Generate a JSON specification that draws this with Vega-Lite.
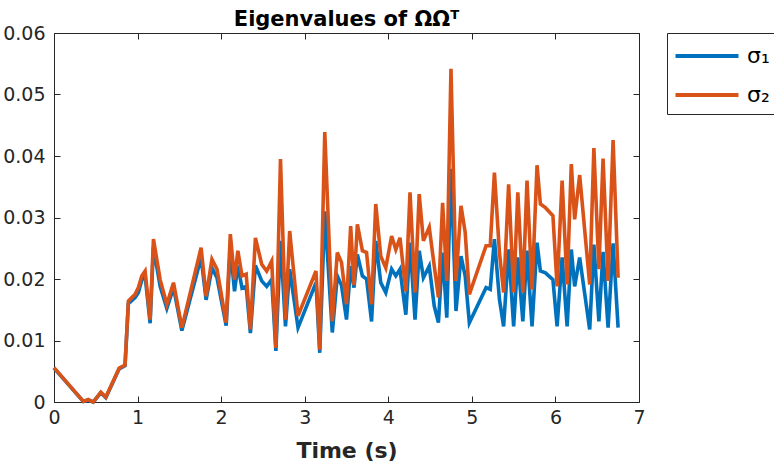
{
  "$schema": "https://vega.github.io/schema/vega-lite/v6.json",
  "width": 585,
  "height": 369,
  "autosize": {"type": "none"},
  "padding": {"left": 54, "top": 33, "right": 135, "bottom": 61},
  "background": "white",
  "config": {
    "font": "DejaVu Sans",
    "view": {"stroke": "#262626", "strokeWidth": 1},
    "axis": {
      "domain": false,
      "grid": false,
      "labelFlush": false,
      "tickColor": "#262626",
      "tickSize": -6,
      "labelColor": "#262626",
      "labelFontSize": 19,
      "labelFont": "DejaVu Sans",
      "titleFont": "DejaVu Sans",
      "titleFontSize": 22,
      "titleFontWeight": "bold",
      "titleColor": "#262626"
    }
  },
  "title": {
    "text": "Eigenvalues of ΩΩᵀ",
    "fontSize": 21,
    "fontWeight": "bold",
    "color": "#000000",
    "font": "DejaVu Sans",
    "offset": -6
  },
  "data": {
    "values": [
      {"t": 0, "s1": 0.0055, "s2": 0.0056},
      {"t": 0.351, "s1": 0.0001, "s2": 0.0001},
      {"t": 0.41, "s1": 0.0003, "s2": 0.0004},
      {"t": 0.47, "s1": 0.0, "s2": 0.0},
      {"t": 0.56, "s1": 0.0015, "s2": 0.0016},
      {"t": 0.62, "s1": 0.0007, "s2": 0.0008},
      {"t": 0.78, "s1": 0.0054, "s2": 0.0055},
      {"t": 0.85, "s1": 0.0059, "s2": 0.006},
      {"t": 0.89, "s1": 0.016, "s2": 0.0164},
      {"t": 0.97, "s1": 0.017, "s2": 0.0175},
      {"t": 1.01, "s1": 0.0178, "s2": 0.0186},
      {"t": 1.05, "s1": 0.0198, "s2": 0.0205},
      {"t": 1.09, "s1": 0.0205, "s2": 0.0213},
      {"t": 1.15, "s1": 0.0128, "s2": 0.0134},
      {"t": 1.19, "s1": 0.0252, "s2": 0.0265},
      {"t": 1.27, "s1": 0.0188, "s2": 0.0199},
      {"t": 1.35, "s1": 0.0152, "s2": 0.0159},
      {"t": 1.43, "s1": 0.0186, "s2": 0.0194},
      {"t": 1.53, "s1": 0.0116, "s2": 0.0121},
      {"t": 1.76, "s1": 0.0235, "s2": 0.0251},
      {"t": 1.82, "s1": 0.0166, "s2": 0.0172},
      {"t": 1.89, "s1": 0.0218, "s2": 0.0232},
      {"t": 1.95, "s1": 0.0202, "s2": 0.0216},
      {"t": 2.06, "s1": 0.0124, "s2": 0.0129},
      {"t": 2.11, "s1": 0.0252, "s2": 0.0273},
      {"t": 2.16, "s1": 0.018, "s2": 0.0199},
      {"t": 2.2, "s1": 0.0222, "s2": 0.0246},
      {"t": 2.25, "s1": 0.0185, "s2": 0.0205},
      {"t": 2.3, "s1": 0.0188, "s2": 0.0208},
      {"t": 2.35, "s1": 0.0112, "s2": 0.0118},
      {"t": 2.41, "s1": 0.0222, "s2": 0.0267},
      {"t": 2.485, "s1": 0.0197, "s2": 0.0224},
      {"t": 2.545, "s1": 0.0188, "s2": 0.0213},
      {"t": 2.605, "s1": 0.0199, "s2": 0.0229},
      {"t": 2.655, "s1": 0.0083, "s2": 0.0088},
      {"t": 2.71, "s1": 0.0262, "s2": 0.0395},
      {"t": 2.77, "s1": 0.0123, "s2": 0.0134},
      {"t": 2.82, "s1": 0.0216, "s2": 0.0278},
      {"t": 2.92, "s1": 0.0121, "s2": 0.014},
      {"t": 3.135, "s1": 0.0194, "s2": 0.0213},
      {"t": 3.18, "s1": 0.008, "s2": 0.0085},
      {"t": 3.24, "s1": 0.031, "s2": 0.0439},
      {"t": 3.33, "s1": 0.0113, "s2": 0.0131},
      {"t": 3.39, "s1": 0.0205, "s2": 0.0243},
      {"t": 3.44, "s1": 0.019, "s2": 0.0227},
      {"t": 3.5, "s1": 0.0134, "s2": 0.0159},
      {"t": 3.55, "s1": 0.0221, "s2": 0.0286},
      {"t": 3.59, "s1": 0.0186, "s2": 0.019},
      {"t": 3.63, "s1": 0.024, "s2": 0.0289},
      {"t": 3.69, "s1": 0.0205, "s2": 0.0246},
      {"t": 3.74, "s1": 0.02, "s2": 0.0243},
      {"t": 3.8, "s1": 0.0131, "s2": 0.0159},
      {"t": 3.85, "s1": 0.0262, "s2": 0.0322},
      {"t": 3.91, "s1": 0.0194, "s2": 0.0237},
      {"t": 3.97, "s1": 0.0178, "s2": 0.0218},
      {"t": 4.04, "s1": 0.0216, "s2": 0.027},
      {"t": 4.09, "s1": 0.0205, "s2": 0.0248},
      {"t": 4.14, "s1": 0.0216, "s2": 0.0267},
      {"t": 4.21, "s1": 0.0142, "s2": 0.018},
      {"t": 4.26, "s1": 0.0259, "s2": 0.0341},
      {"t": 4.32, "s1": 0.0134, "s2": 0.0178},
      {"t": 4.37, "s1": 0.0246, "s2": 0.0338},
      {"t": 4.42, "s1": 0.0202, "s2": 0.0262},
      {"t": 4.49, "s1": 0.0221, "s2": 0.0284},
      {"t": 4.55, "s1": 0.0156, "s2": 0.0221},
      {"t": 4.6, "s1": 0.0129, "s2": 0.017},
      {"t": 4.65, "s1": 0.0243, "s2": 0.0324},
      {"t": 4.7, "s1": 0.0137, "s2": 0.0197},
      {"t": 4.75, "s1": 0.0379, "s2": 0.0542},
      {"t": 4.81, "s1": 0.0148, "s2": 0.0197},
      {"t": 4.87, "s1": 0.0237, "s2": 0.0319},
      {"t": 4.92, "s1": 0.0205, "s2": 0.0276},
      {"t": 4.97, "s1": 0.0129, "s2": 0.0175},
      {"t": 5.17, "s1": 0.0186, "s2": 0.0254},
      {"t": 5.22, "s1": 0.0183, "s2": 0.0254},
      {"t": 5.27, "s1": 0.0265, "s2": 0.0373},
      {"t": 5.33, "s1": 0.0167, "s2": 0.0243},
      {"t": 5.38, "s1": 0.0123, "s2": 0.0178},
      {"t": 5.44, "s1": 0.0248, "s2": 0.0354},
      {"t": 5.5, "s1": 0.0123, "s2": 0.0178},
      {"t": 5.55, "s1": 0.0235, "s2": 0.0341},
      {"t": 5.61, "s1": 0.0131, "s2": 0.0178},
      {"t": 5.66, "s1": 0.0246, "s2": 0.036},
      {"t": 5.72, "s1": 0.0123, "s2": 0.0183},
      {"t": 5.78, "s1": 0.0259, "s2": 0.0385},
      {"t": 5.82, "s1": 0.0213, "s2": 0.0322},
      {"t": 5.88, "s1": 0.021, "s2": 0.0316},
      {"t": 5.97, "s1": 0.0199, "s2": 0.0303},
      {"t": 6.02, "s1": 0.0123, "s2": 0.0188},
      {"t": 6.08, "s1": 0.0235, "s2": 0.036},
      {"t": 6.14, "s1": 0.0123, "s2": 0.0191},
      {"t": 6.19, "s1": 0.0248, "s2": 0.0387},
      {"t": 6.23, "s1": 0.0188, "s2": 0.0297},
      {"t": 6.29, "s1": 0.0235, "s2": 0.0369},
      {"t": 6.41, "s1": 0.0118, "s2": 0.0191},
      {"t": 6.46, "s1": 0.0256, "s2": 0.0413},
      {"t": 6.52, "s1": 0.0131, "s2": 0.0216},
      {"t": 6.57, "s1": 0.0244, "s2": 0.0396},
      {"t": 6.63, "s1": 0.0121, "s2": 0.0197},
      {"t": 6.69, "s1": 0.0258, "s2": 0.0426},
      {"t": 6.75, "s1": 0.0121, "s2": 0.0202}
    ]
  },
  "transform": [{"fold": ["s1", "s2"], "as": ["series", "v"]}],
  "layer": [
    {
      "mark": {"type": "line", "strokeWidth": 3.6},
      "encoding": {
        "x": {
          "field": "t",
          "type": "quantitative",
          "scale": {"domain": [0, 7], "nice": false, "zero": false},
          "axis": {"title": "Time (s)", "values": [0, 1, 2, 3, 4, 5, 6, 7], "labelPadding": 12, "titlePadding": 13}
        },
        "y": {
          "field": "v",
          "type": "quantitative",
          "scale": {"domain": [0, 0.06], "nice": false},
          "axis": {"title": null, "values": [0, 0.01, 0.02, 0.03, 0.04, 0.05, 0.06], "format": ".2~f", "labelPadding": 15}
        },
        "color": {
          "field": "series",
          "type": "nominal",
          "scale": {"domain": ["s1", "s2"], "range": ["#0072BD", "#D95319"]},
          "legend": {
            "title": null,
            "orient": "none",
            "legendX": 613,
            "legendY": 0,
            "symbolType": "M-2.5,0H2.5",
            "symbolSize": 635,
            "symbolStrokeWidth": 4,
            "symbolOffset": 17,
            "labelFontSize": 22,
            "labelColor": "#000000",
            "labelOffset": 25,
            "labelExpr": "datum.value == 's1' ? 'σ₁' : 'σ₂'",
            "fillColor": "white",
            "strokeColor": "#262626",
            "padding": 8,
            "rowPadding": 13
          }
        }
      }
    },
    {
      "mark": {"type": "line", "opacity": 0},
      "encoding": {
        "x": {"field": "t", "type": "quantitative", "axis": {"orient": "top", "labels": false, "title": null, "values": [0, 1, 2, 3, 4, 5, 6, 7]}},
        "y": {"field": "v", "type": "quantitative", "axis": {"orient": "right", "labels": false, "title": null, "values": [0, 0.01, 0.02, 0.03, 0.04, 0.05, 0.06]}},
        "detail": {"field": "series"}
      }
    }
  ],
  "resolve": {"axis": {"x": "independent", "y": "independent"}}
}
